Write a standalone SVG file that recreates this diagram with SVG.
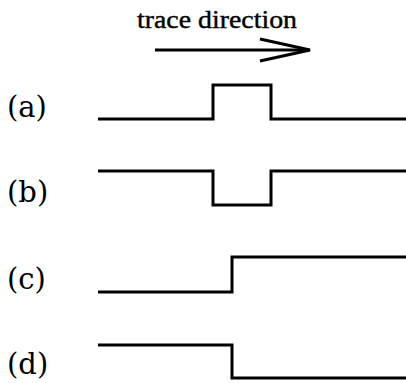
<svg xmlns="http://www.w3.org/2000/svg" width="406" height="383" viewBox="0 0 406 383">
  <style>
    .sig { fill: none; stroke: #000; stroke-width: 3; stroke-linejoin: miter; stroke-linecap: butt; }
    .lbl { font-family: "DejaVu Serif", serif; font-size: 29px; fill: #000; }
    .title { font-family: "Liberation Serif", serif; font-size: 25px; fill: #000; stroke: #000; stroke-width: 0.4; }
  </style>
  <rect width="406" height="383" fill="#fff"/>

  <g id="direction">
    <text class="title" x="137" y="28" textLength="160" lengthAdjust="spacingAndGlyphs">trace direction</text>
    <path d="M155 50 H309" stroke="#000" stroke-width="3" fill="none"/>
    <path d="M260 39 L310 50 L260 61" stroke="#000" stroke-width="3" fill="none" stroke-linejoin="miter"/>
  </g>

  <g id="row-a">
    <text class="lbl" x="7" y="117">(a)</text>
    <path class="sig" d="M98 119 H213 V85 H271 V119 H406"/>
  </g>

  <g id="row-b">
    <text class="lbl" x="7" y="202">(b)</text>
    <path class="sig" d="M98 171 H213 V205 H271 V171 H406"/>
  </g>

  <g id="row-c">
    <text class="lbl" x="7" y="289">(c)</text>
    <path class="sig" d="M98 292 H232 V257 H406"/>
  </g>

  <g id="row-d">
    <text class="lbl" x="7" y="374">(d)</text>
    <path class="sig" d="M98 345 H232 V378 H406"/>
  </g>
</svg>
